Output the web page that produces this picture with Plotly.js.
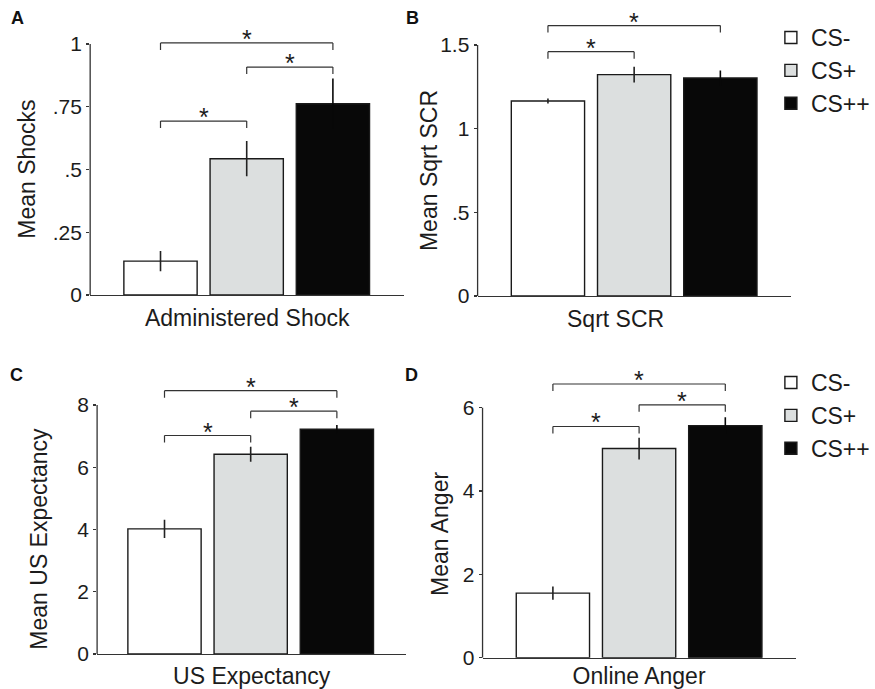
<!DOCTYPE html>
<html>
<head>
<meta charset="utf-8">
<script src="https://cdn.plot.ly/plotly-3.0.1.min.js"></script>
<style>html,body{margin:0;padding:0;background:#fff}#chart{width:875px;height:689px}</style>
</head>
<body>
<div id="chart"></div>
<script>
// ---- data ----
const conditions = ['CS-', 'CS+', 'CS++'];

const shockMean = [0.135, 0.543, 0.762];
const shockErr  = [0.04, 0.07, 0.10];
const shockTicks = [0, 0.25, 0.5, 0.75, 1];
const shockTickText = ['0', '.25', '.5', '.75', '1'];

const scrMean = [1.165, 1.323, 1.303];
const scrErr  = [0.015, 0.047, 0.045];
const scrTicks = [0, 0.5, 1, 1.5];
const scrTickText = ['0', '.5', '1', '1.5'];

const expectMean = [4.02, 6.42, 7.22];
const expectErr  = [0.29, 0.24, 0.14];
const expectTicks = [0, 2, 4, 6, 8];
const expectTickText = ['0', '2', '4', '6', '8'];

const angerMean = [1.55, 5.02, 5.57];
const angerErr  = [0.16, 0.26, 0.20];
const angerTicks = [0, 2, 4, 6];
const angerTickText = ['0', '2', '4', '6'];

// significance brackets: [from, to, level]
const shockSig  = [['CS-', 'CS+', 0.693], ['CS+', 'CS++', 0.908], ['CS-', 'CS++', 1.004]];
const scrSig    = [['CS-', 'CS+', 1.46], ['CS-', 'CS++', 1.616]];
const expectSig = [['CS-', 'CS+', 7.02], ['CS+', 'CS++', 7.80], ['CS-', 'CS++', 8.46]];
const angerSig  = [['CS-', 'CS+', 5.55], ['CS+', 'CS++', 6.07], ['CS-', 'CS++', 6.57]];

// ---- styles ----
const fills = ['#ffffff', '#dcdfdf', '#080808'];
const errColors = ['#222222', '#222222', '#080808'];
const FONT = 'Liberation Sans, Arial, Helvetica, sans-serif';
const INK = '#1c1c1c';
const W = 875, H = 689;

const panels = [
  {id: '', mean: shockMean, err: shockErr, ticks: shockTicks, tt: shockTickText, sig: shockSig,
   xt: 'Administered Shock', yt: 'Mean Shocks', letter: 'A', legend: null,
   xdom: [0.10400, 0.46629], ydom: [0.57184, 0.95443], xr: [-0.816, 2.828], yr: [0, 1.05],
   ytPos: [27, 169], xtPos: null, letterPos: [18, 18]},
  {id: '2', mean: scrMean, err: scrErr, ticks: scrTicks, tt: scrTickText, sig: scrSig,
   xt: 'Sqrt SCR', yt: 'Mean Sqrt SCR', letter: 'B', legend: 'legend',
   xdom: [0.55086, 0.91200], ydom: [0.57039, 0.98331], xr: [-0.816, 2.816], yr: [0, 1.7],
   ytPos: [433, 171], xtPos: [621, 319], letterPos: [416, 18]},
  {id: '3', mean: expectMean, err: expectErr, ticks: expectTicks, tt: expectTickText, sig: expectSig,
   xt: 'US Expectancy', yt: 'Mean US Expectancy', letter: 'C', legend: null,
   xdom: [0.11200, 0.46857], ydom: [0.05080, 0.44833], xr: [-0.782, 2.805], yr: [0, 8.8],
   ytPos: [39, 539], xtPos: null, letterPos: [17, 375]},
  {id: '4', mean: angerMean, err: angerErr, ticks: angerTicks, tt: angerTickText, sig: angerSig,
   xt: 'Online Anger', yt: 'Mean Anger', letter: 'D', legend: 'legend2',
   xdom: [0.55657, 0.91771], ydom: [0.04543, 0.45660], xr: [-0.816, 2.816], yr: [0, 6.8],
   ytPos: [444, 534], xtPos: null, letterPos: [415, 375]}
];

const traces = [];
const shapes = [];
const annotations = [];
const legendStyle = {xanchor: 'left', yanchor: 'top', bgcolor: 'rgba(0,0,0,0)',
                     font: {size: 23, family: FONT, color: INK}, traceorder: 'normal'};
const layout = {
  width: W, height: H,
  margin: {l: 0, r: 0, t: 0, b: 0},
  paper_bgcolor: '#ffffff', plot_bgcolor: 'rgba(0,0,0,0)',
  barmode: 'overlay',
  font: {family: FONT, color: INK, size: 21},
  showlegend: true,
  legend: Object.assign({x: 778 / W, y: 1 - 16 / H}, legendStyle),
  legend2: Object.assign({x: 778 / W, y: 1 - 361 / H}, legendStyle),
  shapes: shapes, annotations: annotations
};

panels.forEach(p => {
  const xa = 'x' + p.id, ya = 'y' + p.id;
  conditions.forEach((c, i) => {
    const t = {
      type: 'bar', x: [c], y: [p.mean[i]], name: c,
      xaxis: xa, yaxis: ya, width: 0.85,
      marker: {color: fills[i], line: {color: '#1a1a1a', width: 1.4}},
      error_y: {type: 'data', array: [p.err[i]], visible: true, width: 0, thickness: 1.6, color: errColors[i]},
      showlegend: !!p.legend, hoverinfo: 'skip'
    };
    if (p.legend) t.legend = p.legend;
    traces.push(t);
  });
  layout['xaxis' + p.id] = {
    domain: p.xdom, anchor: ya, type: 'category', categoryarray: conditions, categoryorder: 'array',
    range: p.xr, showline: true, linecolor: '#333', linewidth: 1.3, ticks: '', showticklabels: false,
    showgrid: false, zeroline: false, fixedrange: true,
    title: p.xtPos ? {text: ''} : {text: p.xt, font: {size: 23, family: FONT, color: INK}, standoff: 14}
  };
  layout['yaxis' + p.id] = {
    domain: p.ydom, anchor: xa, range: p.yr, tickvals: p.ticks, ticktext: p.tt,
    ticks: 'outside', ticklen: 3, tickwidth: 1.3, tickcolor: '#333', showline: false,
    showgrid: false, zeroline: false, fixedrange: true,
    tickfont: {size: 21, family: FONT, color: INK}
  };
  // y-axis line only up to the top tick
  shapes.push({type: 'line', xref: xa + ' domain', yref: ya, x0: 0, x1: 0,
               y0: p.ticks[0], y1: p.ticks[p.ticks.length - 1], line: {color: '#333', width: 1.3}});
  // significance brackets
  p.sig.forEach(s => {
    const ln = {color: '#333', width: 1.2};
    shapes.push({type: 'line', xref: xa, yref: ya, x0: s[0], x1: s[1], y0: s[2], y1: s[2], line: ln});
    [s[0], s[1]].forEach(e => {
      shapes.push({type: 'line', xref: xa, yref: ya, ysizemode: 'pixel', yanchor: s[2],
                   x0: e, x1: e, y0: 0, y1: -7, line: ln});
    });
    annotations.push({xref: xa, yref: ya, x: (conditions.indexOf(s[0]) + conditions.indexOf(s[1])) / 2,
                      y: s[2], text: '*', showarrow: false, yanchor: 'middle', yshift: 4,
                      font: {size: 25, family: FONT, color: INK}});
  });
  // y-axis title
  annotations.push({xref: 'paper', yref: 'paper', x: p.ytPos[0] / W, y: 1 - p.ytPos[1] / H,
                    xanchor: 'center', yanchor: 'middle', textangle: -90, showarrow: false,
                    text: p.yt, font: {size: 23, family: FONT, color: INK}});
  if (p.xtPos) {
    annotations.push({xref: 'paper', yref: 'paper', x: p.xtPos[0] / W, y: 1 - p.xtPos[1] / H,
                      xanchor: 'center', yanchor: 'middle', showarrow: false,
                      text: p.xt, font: {size: 23, family: FONT, color: INK}});
  }
  annotations.push({xref: 'paper', yref: 'paper', x: p.letterPos[0] / W, y: 1 - p.letterPos[1] / H,
                    xanchor: 'center', yanchor: 'middle', showarrow: false,
                    text: '<b>' + p.letter + '</b>', font: {size: 18, family: FONT, color: '#111'}});
});

Plotly.newPlot('chart', traces, layout, {staticPlot: true, displayModeBar: false});
</script>
</body>
</html>
